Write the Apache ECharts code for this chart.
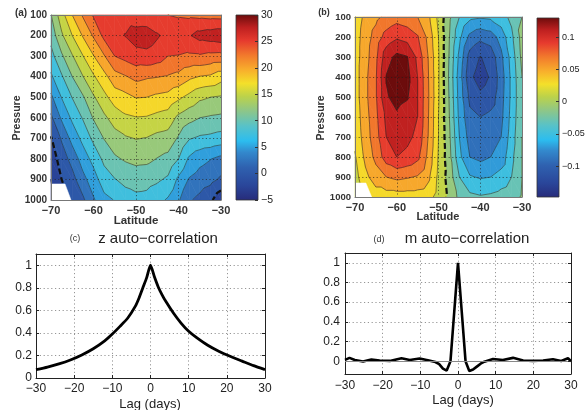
<!DOCTYPE html>
<html><head><meta charset="utf-8">
<script src="https://cdn.jsdelivr.net/npm/echarts@6/dist/echarts.min.js"></script>
<style>html,body{margin:0;padding:0;background:#fff}#c{width:588px;height:410px}</style>
</head><body><div id="c"></div><script>
// ---------------- data ----------------
const lats = [-70,-67.5,-65,-62.5,-60,-57.5,-55,-52.5,-50,-47.5,-45,-42.5,-40,-37.5,-35,-32.5,-30];
const pressures = [100,200,300,400,500,600,700,800,900,1000];
// panel (a): rows by pressure, columns by latitude
const fieldA = [
 [12.4,16.5,20.0,22.8,25.3,26.2,26.5,26.3,25.9,25.8,25.3,25.0,24.7,24.5,24.3,24.1,24.0],
 [10.9,14.6,17.5,20.2,22.8,25.7,26.6,27.6,28.6,28.8,27.8,26.8,26.8,27.3,28.4,28.8,29.2],
 [9.1,12.1,14.8,17.4,19.9,22.3,25.0,25.8,26.6,26.8,26.2,25.0,24.9,24.6,24.7,24.3,24.2],
 [7.1,9.7,12.5,14.9,17.2,19.2,21.5,22.3,23.2,22.8,22.6,22.3,21.8,20.6,19.9,19.6,18.5],
 [4.5,7.6,10.1,12.2,14.7,16.8,18.7,19.3,20.1,20.0,19.5,19.2,18.0,16.8,15.5,15.0,14.7],
 [2.0,5.4,8.0,10.2,12.7,14.5,16.1,17.1,17.4,17.3,16.8,16.4,14.4,13.3,12.5,12.2,12.0],
 [-0.2,2.8,5.9,8.2,10.6,12.6,14.0,14.7,15.1,14.9,14.3,14.0,12.2,10.2,9.6,9.4,9.0],
 [-1.5,1.2,3.4,6.2,8.3,10.6,12.1,12.8,13.2,13.1,12.4,11.8,10.0,7.1,5.8,5.1,4.3],
 [-2.5,0.0,1.6,4.2,6.4,8.8,9.9,10.6,11.1,10.9,10.4,9.6,7.0,4.8,3.9,3.3,2.1],
 [-3.0,-1.0,0.5,2.0,4.7,6.8,7.6,9.0,9.3,9.2,8.3,7.2,5.3,2.8,1.8,0.5,-1.8]
];
// panel (b)
const fieldB = [
 [0.028,0.045,0.055,0.065,0.072,0.068,0.060,0.045,0.015,-0.015,-0.040,-0.055,-0.058,-0.056,-0.048,-0.035,-0.020],
 [0.030,0.050,0.068,0.088,0.097,0.092,0.082,0.055,0.020,-0.018,-0.055,-0.085,-0.095,-0.090,-0.072,-0.045,-0.012],
 [0.030,0.052,0.075,0.112,0.125,0.121,0.095,0.060,0.022,-0.020,-0.065,-0.108,-0.121,-0.112,-0.085,-0.052,-0.015],
 [0.030,0.055,0.078,0.121,0.134,0.127,0.100,0.062,0.022,-0.022,-0.070,-0.116,-0.128,-0.118,-0.090,-0.055,-0.020],
 [0.030,0.055,0.078,0.118,0.126,0.122,0.100,0.063,0.022,-0.020,-0.068,-0.105,-0.116,-0.110,-0.088,-0.055,-0.022],
 [0.028,0.052,0.075,0.105,0.117,0.110,0.100,0.062,0.020,-0.018,-0.065,-0.095,-0.100,-0.095,-0.085,-0.053,-0.022],
 [0.025,0.050,0.072,0.100,0.110,0.105,0.095,0.060,0.020,-0.015,-0.060,-0.088,-0.092,-0.088,-0.080,-0.050,-0.020],
 [0.018,0.045,0.066,0.090,0.100,0.095,0.085,0.055,0.018,-0.012,-0.055,-0.080,-0.085,-0.080,-0.072,-0.045,-0.020],
 [0.012,0.035,0.050,0.060,0.065,0.062,0.058,0.045,0.015,-0.008,-0.040,-0.058,-0.062,-0.060,-0.052,-0.040,-0.020],
 [0.010,0.025,0.030,0.030,0.030,0.030,0.030,0.028,0.012,-0.004,-0.025,-0.035,-0.038,-0.036,-0.032,-0.028,-0.018]
];
const levelsA = [-5,-2.5,0,2.5,5,7.5,10,12.5,15,17.5,20,22.5,25,27.5,30];
const levelsB = [-0.14,-0.12,-0.1,-0.08,-0.06,-0.04,-0.02,0,0.02,0.04,0.06,0.08,0.1,0.12,0.14];
const cbarA = [-5, 30];
const cbarB = [-0.148, 0.13];
const maskA = [[-70,922],[-66.7,922],[-65.3,1000],[-70,1000]];
const maskB = [[-70,930],[-67.4,930],[-66,1000],[-70,1000]];

const zLags = [-30,-27,-24,-21,-18,-15,-12,-10,-8,-6,-4,-3,-2,-1,0,1,2,3,4,6,8,10,12,15,18,21,24,27,30];
const zAcf  = [0.074,0.097,0.125,0.16,0.205,0.26,0.33,0.39,0.458,0.53,0.635,0.71,0.80,0.89,1.0,0.90,0.81,0.74,0.68,0.576,0.487,0.414,0.36,0.29,0.235,0.19,0.15,0.11,0.074];
const mLags = [-30,-28.8,-27.4,-25.2,-23,-20.8,-18.1,-15,-12.8,-10.2,-8,-6,-5,-4,-3,-2,-1,0,1,2,3,4,5,6,7,9.3,11.9,14.6,17.3,19.9,22.6,25.2,27.4,29.2,30];
const mAcf  = [0.013,0.034,0.013,-0.003,0.017,0.007,0.003,0.03,0.013,0.027,0.01,-0.008,-0.03,-0.075,-0.095,0.0,0.5,1.0,0.5,0.0,-0.1,-0.085,-0.055,-0.025,-0.005,0.023,0.013,0.034,0.007,0.003,0.007,0.02,0.003,0.03,0.0];

// ---------------- helpers ----------------
const cmapStops = [[0,'#272b7a'],[0.08,'#2a469a'],[0.18,'#2f62b0'],[0.26,'#3389cd'],[0.32,'#2cbdef'],[0.40,'#58c2c8'],[0.48,'#8cc68a'],[0.56,'#bcd24a'],[0.63,'#f4e02a'],[0.70,'#f8b02c'],[0.78,'#f27a2c'],[0.86,'#e63a2e'],[0.93,'#bf2020'],[1,'#6c0c0c']];
function hex2rgb(h){return [parseInt(h.substr(1,2),16),parseInt(h.substr(3,2),16),parseInt(h.substr(5,2),16)];}
function cmap(t){
  t=Math.max(0,Math.min(1,t));
  for(let i=0;i<cmapStops.length-1;i++){
    const a=cmapStops[i],b=cmapStops[i+1];
    if(t<=b[0]){const f=(t-a[0])/(b[0]-a[0]);const ca=hex2rgb(a[1]),cb=hex2rgb(b[1]);
      return 'rgb('+ca.map((v,k)=>Math.round(v+f*(cb[k]-v))).join(',')+')';}
  }
  return cmapStops[cmapStops.length-1][1];
}
const minus = v => String(v).replace('-', '\u2212');

function clip(poly, level, keepAbove){
  const out=[];
  for(let i=0;i<poly.length;i++){
    const a=poly[i], b=poly[(i+1)%poly.length];
    const ina = keepAbove ? a[2]>=level : a[2]<=level;
    const inb = keepAbove ? b[2]>=level : b[2]<=level;
    if(ina) out.push(a);
    if(ina!==inb){const t=(level-a[2])/(b[2]-a[2]); out.push([a[0]+t*(b[0]-a[0]),a[1]+t*(b[1]-a[1]),level]);}
  }
  return out;
}

function fillSeries(field, levels, colorOf, xi, yi){
  const cells=[];
  for(let j=0;j<pressures.length-1;j++) for(let i=0;i<lats.length-1;i++) cells.push([lats[i],pressures[j],i,j]);
  const bounds=[-Infinity].concat(levels).concat([Infinity]);
  return {type:'custom', xAxisIndex:xi, yAxisIndex:yi, data:cells, encode:{x:0,y:1}, silent:true, z:2,
    renderItem(params, api){
      const i=api.value(2), j=api.value(3);
      const P=(a,b)=>{const c=api.coord([lats[a],pressures[b]]);return [c[0],c[1],field[b][a]];};
      const v00=P(i,j),v10=P(i+1,j),v01=P(i,j+1),v11=P(i+1,j+1);
      const children=[];
      [[v00,v10,v11],[v00,v11,v01]].forEach(tri=>{
        for(let k=0;k<bounds.length-1;k++){
          let poly=clip(tri,bounds[k],true); if(poly.length<3) continue;
          poly=clip(poly,bounds[k+1],false); if(poly.length<3) continue;
          const col=colorOf(bounds[k],bounds[k+1]);
          children.push({type:'polygon',shape:{points:poly.map(p=>[p[0],p[1]])},style:{fill:col,stroke:col,lineWidth:0.7}});
        }
      });
      return {type:'group',children};
    }};
}

function contourLines(field, L){
  const nx=lats.length;
  const vert=(a,b)=>({id:b*nx+a,x:lats[a],y:pressures[b],v:field[b][a]});
  const segs=[];
  for(let b=0;b<pressures.length-1;b++) for(let a=0;a<nx-1;a++){
    const v00=vert(a,b),v10=vert(a+1,b),v01=vert(a,b+1),v11=vert(a+1,b+1);
    [[v00,v10,v11],[v00,v11,v01]].forEach(tri=>{
      const pts=[];
      for(let e=0;e<3;e++){
        let p=tri[e],q=tri[(e+1)%3];
        if((p.v>=L)!==(q.v>=L)){
          if(p.id>q.id){const t=p;p=q;q=t;}
          const t=(L-p.v)/(q.v-p.v);
          pts.push({key:p.id+'_'+q.id,x:p.x+t*(q.x-p.x),y:p.y+t*(q.y-p.y)});
        }
      }
      if(pts.length===2) segs.push(pts);
    });
  }
  const map=new Map();
  segs.forEach((s,i)=>s.forEach((pt,e)=>{if(!map.has(pt.key))map.set(pt.key,[]);map.get(pt.key).push([i,e]);}));
  const used=new Array(segs.length).fill(false);
  const lines=[];
  segs.forEach((s,i)=>{
    if(used[i])return; used[i]=true;
    const line=[s[0],s[1]];
    const grow=atEnd=>{for(;;){const end=atEnd?line[line.length-1]:line[0];
      const c=(map.get(end.key)||[]).find(([j])=>!used[j]); if(!c)break; used[c[0]]=true;
      const o=segs[c[0]][1-c[1]]; if(atEnd)line.push(o); else line.unshift(o);}};
    grow(true);grow(false);lines.push(line);
  });
  return lines;
}

function lineSeries(field, levels, xi, yi){
  return {type:'custom', xAxisIndex:xi, yAxisIndex:yi, data:[[lats[0],pressures[0]]], encode:{x:0,y:1}, silent:true, z:3,
    renderItem(params, api){
      const children=[];
      levels.forEach(L=>{
        contourLines(field,L).forEach(line=>{
          const pts=line.map(p=>api.coord([p.x,p.y]));
          const zero = Math.abs(L)<1e-12;
          children.push({type:'polyline',shape:{points:pts},
            style: zero ? {stroke:'#111',lineWidth:2.2,lineDash:[6,3],fill:null}
                        : {stroke:'rgba(35,35,35,0.75)',lineWidth:0.7,fill:null}});
        });
      });
      return {type:'group',children};
    }};
}

function maskSeries(mask, xi, yi){
  return {type:'custom', xAxisIndex:xi, yAxisIndex:yi, data:[mask[0]], encode:{x:0,y:1}, silent:true, z:4,
    renderItem(params, api){
      return {type:'polygon',shape:{points:mask.map(p=>api.coord(p))},style:{fill:'#fff',stroke:'#fff',lineWidth:0.5}};
    }};
}

function cbarSeries(range, xi, yi){
  return {type:'custom', xAxisIndex:xi, yAxisIndex:yi, data:[[0,range[0]]], encode:{x:0,y:1}, silent:true, z:2,
    renderItem(params, api){
      const p0=api.coord([0,range[0]]), p1=api.coord([1,range[1]]);
      const stops=cmapStops.map(s=>({offset:s[0],color:s[1]}));
      return {type:'rect',shape:{x:p0[0],y:p1[1],width:p1[0]-p0[0],height:p0[1]-p1[1]},
        style:{fill:new echarts.graphic.LinearGradient(0,1,0,0,stops),stroke:'#333',lineWidth:0.8}};
    }};
}

const tA = v => (v-cbarA[0])/(cbarA[1]-cbarA[0]);
const tB = v => (v-cbarB[0])/(cbarB[1]-cbarB[0]);
const colorA = (lo,hi) => cmap(tA(lo===-Infinity ? hi-2.5 : lo));
const colorB = (lo,hi) => {
  let m = lo===-Infinity ? hi-0.01 : (hi===Infinity ? lo+0.01 : (lo+hi)/2);
  return cmap(tB(m));
};

// ---------------- axes ----------------
const FONT='Liberation Sans, Arial, sans-serif';
const dotted={show:true,lineStyle:{color:'rgba(30,30,30,0.8)',width:0.8,type:[1.2,2.4]},showMinLine:false,showMaxLine:false};
function latX(grid){return {type:'value',gridIndex:grid,min:-70,max:-30,interval:10,z:5,
  axisLine:{show:true,onZero:false,lineStyle:{color:'#777',width:1}},axisTick:{show:false},
  axisLabel:{fontSize:11,fontWeight:'bold',color:'#333',margin:5,formatter:minus},splitLine:dotted};}
function presY(grid,fs){return {type:'value',gridIndex:grid,min:100,max:1000,interval:100,inverse:true,z:5,
  axisLine:{show:true,onZero:false,lineStyle:{color:'#777',width:1}},axisTick:{show:false},
  axisLabel:{fontSize:fs,fontWeight:'bold',color:'#333',margin:4,formatter:v=>String(v)},splitLine:dotted};}
function frameX(grid,min,max,ticks){return {type:'value',gridIndex:grid,min:min,max:max,interval:10,position:'top',z:5,
  axisLine:{show:true,onZero:false,lineStyle:{color:ticks?'#222':'#777',width:1}},axisTick:{show:!!ticks,inside:true,length:3,lineStyle:{color:'#222'}},
  axisLabel:{show:false},splitLine:{show:false}};}
function frameY(grid,min,max,ticks,inv){return {type:'value',gridIndex:grid,min:min,max:max,position:'right',inverse:!!inv,z:5,
  axisLine:{show:true,onZero:false,lineStyle:{color:ticks?'#222':'#777',width:1}},axisTick:{show:!!ticks,inside:true,length:3,lineStyle:{color:'#222'}},
  axisLabel:{show:false},splitLine:{show:false}};}
const gridDot={show:true,lineStyle:{color:'#8a8a8a',width:0.9,type:[1.2,2.6]},showMinLine:false,showMaxLine:false};

const option={
  animation:false,
  textStyle:{fontFamily:FONT},
  grid:[
    {left:51,top:15,width:170,height:185,outerBoundsMode:'none',containLabel:false},
    {left:236,top:15,width:22,height:185,outerBoundsMode:'none',containLabel:false},
    {left:355,top:17,width:167,height:180,outerBoundsMode:'none',containLabel:false},
    {left:537,top:18,width:22,height:179,outerBoundsMode:'none',containLabel:false},
    {left:36,top:254,width:229,height:124,outerBoundsMode:'none',containLabel:false},
    {left:345,top:253,width:226,height:121,outerBoundsMode:'none',containLabel:false}
  ],
  xAxis:[
    latX(0),
    frameX(0,-70,-30,false),
    {type:'value',gridIndex:1,min:0,max:1,show:false},
    latX(2),
    frameX(2,-70,-30,false),
    {type:'value',gridIndex:3,min:0,max:1,show:false},
    {type:'value',gridIndex:4,min:-30,max:30,interval:10,
      axisLine:{show:true,onZero:false,lineStyle:{color:'#222',width:1}},axisTick:{show:true,inside:true,length:3,lineStyle:{color:'#222'}},
      axisLabel:{fontSize:12,color:'#222',margin:5,formatter:minus},splitLine:gridDot},
    frameX(4,-30,30,true),
    {type:'value',gridIndex:5,min:-30,max:30,interval:10,
      axisLine:{show:true,onZero:false,lineStyle:{color:'#222',width:1}},axisTick:{show:true,inside:true,length:3,lineStyle:{color:'#222'}},
      axisLabel:{fontSize:12,color:'#222',margin:6,formatter:minus},splitLine:gridDot},
    frameX(5,-30,30,true)
  ],
  yAxis:[
    presY(0,10),
    frameY(0,100,1000,false,true),
    {type:'value',gridIndex:1,min:cbarA[0],max:cbarA[1],interval:5,position:'right',z:5,
      axisLine:{show:false,onZero:false},axisTick:{show:true,inside:true,length:3,lineStyle:{color:'#333'}},
      axisLabel:{fontSize:10.5,color:'#222',margin:3,formatter:minus},splitLine:{show:false}},
    presY(2,9.5),
    frameY(2,100,1000,false,true),
    {type:'value',gridIndex:3,min:cbarB[0],max:cbarB[1],splitNumber:5,position:'right',z:5,
      axisLine:{show:false,onZero:false},axisTick:{show:true,inside:true,length:3,lineStyle:{color:'#333'}},
      axisLabel:{fontSize:9,color:'#222',margin:3,showMinLabel:false,showMaxLabel:false,
        formatter:v=>{const r=Math.round(v*20);return Math.abs(v*20-r)<1e-6&&Math.abs(v)<0.11?minus(+(r/20).toFixed(2)):'';}},
      splitLine:{show:false}},
    {type:'value',gridIndex:4,min:0,max:1.1,interval:0.2,
      axisLine:{show:true,onZero:false,lineStyle:{color:'#222',width:1}},axisTick:{show:true,inside:true,length:3,lineStyle:{color:'#222'}},
      axisLabel:{fontSize:12,color:'#222',margin:4,formatter:v=>v>1.05?'':String(+v.toFixed(1))},splitLine:gridDot},
    frameY(4,0,1.1,true,false),
    {type:'value',gridIndex:5,min:-0.13,max:1.1,splitNumber:6,
      axisLine:{show:true,onZero:false,lineStyle:{color:'#222',width:1}},axisTick:{show:true,inside:true,length:3,lineStyle:{color:'#222'}},
      axisLabel:{fontSize:12,color:'#222',margin:5,formatter:v=>(v<-0.01||v>1.05)?'':String(+v.toFixed(1))},splitLine:gridDot},
    frameY(5,-0.13,1.1,true,false)
  ],
  series:[
    fillSeries(fieldA,levelsA,colorA,0,0),
    lineSeries(fieldA,levelsA,0,0),
    maskSeries(maskA,0,0),
    cbarSeries(cbarA,2,2),
    fillSeries(fieldB,levelsB,colorB,3,3),
    lineSeries(fieldB,levelsB,3,3),
    maskSeries(maskB,3,3),
    cbarSeries(cbarB,5,5),
    {type:'line',xAxisIndex:6,yAxisIndex:6,data:zLags.map((x,i)=>[x,zAcf[i]]),showSymbol:false,smooth:0.2,
      lineStyle:{color:'#000',width:2.8},z:3},
    {type:'line',xAxisIndex:8,yAxisIndex:8,data:mLags.map((x,i)=>[x,mAcf[i]]),showSymbol:false,
      lineStyle:{color:'#000',width:2.6},z:3,
      markLine:{silent:true,symbol:'none',label:{show:false},lineStyle:{color:'#888',width:1,type:'solid'},data:[{yAxis:0}]}}
  ],
  graphic:[
    {type:'text',x:21,y:13,style:{text:'(a)',font:'bold 10px '+FONT,fill:'#333',align:'center',verticalAlign:'middle'}},
    {type:'text',x:136,y:221,style:{text:'Latitude',font:'bold 11.5px '+FONT,fill:'#333',align:'center',verticalAlign:'middle'}},
    {type:'text',x:17,y:118,rotation:Math.PI/2,style:{text:'Pressure',font:'bold 10.5px '+FONT,fill:'#333',align:'center',verticalAlign:'middle'}},
    {type:'text',x:324,y:13,style:{text:'(b)',font:'bold 9px '+FONT,fill:'#333',align:'center',verticalAlign:'middle'}},
    {type:'text',x:438,y:217,style:{text:'Latitude',font:'bold 11px '+FONT,fill:'#333',align:'center',verticalAlign:'middle'}},
    {type:'text',x:321,y:118,rotation:Math.PI/2,style:{text:'Pressure',font:'bold 10.5px '+FONT,fill:'#333',align:'center',verticalAlign:'middle'}},
    {type:'text',x:75,y:239,style:{text:'(c)',font:'9px '+FONT,fill:'#333',align:'center',verticalAlign:'middle'}},
    {type:'text',x:158,y:239,style:{text:'z auto\u2212correlation',font:'15px '+FONT,fill:'#222',align:'center',verticalAlign:'middle'}},
    {type:'text',x:150,y:404,style:{text:'Lag (days)',font:'13px '+FONT,fill:'#222',align:'center',verticalAlign:'middle'}},
    {type:'text',x:379,y:240,style:{text:'(d)',font:'9px '+FONT,fill:'#333',align:'center',verticalAlign:'middle'}},
    {type:'text',x:467,y:239,style:{text:'m auto\u2212correlation',font:'15px '+FONT,fill:'#222',align:'center',verticalAlign:'middle'}},
    {type:'text',x:463,y:400,style:{text:'Lag (days)',font:'13px '+FONT,fill:'#222',align:'center',verticalAlign:'middle'}}
  ]
};
const chart=echarts.init(document.getElementById('c'),null,{renderer:'canvas',width:588,height:410});
chart.setOption(option);
</script></body></html>
